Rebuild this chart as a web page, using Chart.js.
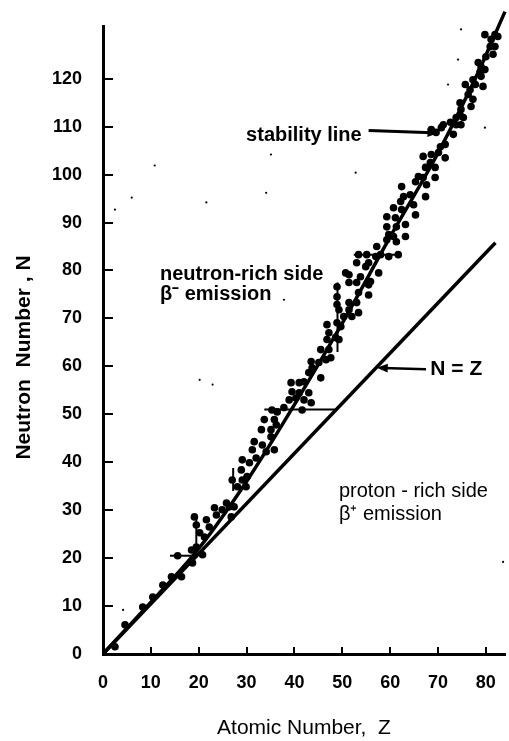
<!DOCTYPE html>
<html>
<head>
<meta charset="utf-8">
<title>Neutron number vs atomic number</title>
<script src="https://cdn.jsdelivr.net/npm/chart.js@4.4.0/dist/chart.umd.min.js"></script>
<style>
  html, body { margin: 0; padding: 0; background: #fff; }
  #wrap { width: 509px; height: 741px; }
</style>
</head>
<body>
<div id="wrap"><canvas id="nuclideChart" width="509" height="741"></canvas></div>
<script>
// Tick labels
const zTicks = [0, 10, 20, 30, 40, 50, 60, 70, 80];
const nTicks = [0, 10, 20, 30, 40, 50, 60, 70, 80, 90, 100, 110, 120];

// Stable nuclides (Z, N)
const dotZ = [2.5, 4.6, 8.3, 10.4, 12.5, 14.3, 16.4, 15.6, 18.5, 19.5, 18.7, 20.8,
  19.1, 19.5, 20.2, 21.2, 21.6, 22.2, 23.3, 23.7, 24.9, 25.8, 26.4, 26.8, 27.4,
  27, 28.1, 29.1, 29.9, 30.1, 28.9, 30.6, 29.1, 32, 31.2, 31.6, 33.3, 34.1, 35.1,
  35.8, 33.1, 35.1, 36.2, 33.7, 35.8, 35.3, 36.4, 37.8, 41.6, 38.9, 40.3, 42,
  39.5, 41, 43, 39.3, 41, 42, 43.5, 43, 43.7, 45.1, 45.5, 43.5, 45.5, 47.2, 46.6,
  47.6, 46.8, 47.2, 46.8, 48.6, 49.3, 48.9, 49.7, 48.9, 48.9, 48.9, 49.3, 51.4,
  50.3, 52, 51.4, 53, 53.4, 53.4, 51.4, 51.4, 53, 53.8, 55.5, 55.5, 53.4, 55.1,
  57, 58, 61.7, 54.9, 55.5, 57.6, 53, 50.7, 55.9, 59.7, 57.2, 59.3, 59.7, 61.3,
  60.7, 59.3, 59.3, 61.1, 61.3, 63.2, 63.2, 60.7, 62.4, 62.2, 65.3, 62.8, 62.4,
  64.2, 64.9, 65.3, 65.9, 67.6, 66.9, 67.4, 67.4, 68.4, 69.4, 69.4, 66.9, 68.6,
  70.1, 70.5, 71.5, 71.5, 68.6, 70.7, 69.6, 71.1, 73.2, 72.6, 73.8, 74.8, 73.8,
  74.6, 75.3, 74.8, 74.6, 76.9, 77.3, 76.3, 76.7, 75.7, 77.8, 79.4, 77.3, 79,
  78.8, 79, 79.8, 78.4, 80, 81.5, 81.9, 80.9, 79.8, 81.9, 81.1, 82.5];
const dotN = [1.5, 6.1, 9.8, 11.9, 14.4, 16.1, 16.1, 20.5, 21.7, 22.3, 19, 20.7,
  28.6, 26.9, 25.3, 24.4, 28, 26.5, 30.5, 29, 30.1, 31.5, 30.7, 28.6, 30.7,
  36.3, 34.9, 36.3, 34.9, 37, 38.4, 39.9, 40.5, 40.9, 42.6, 44.3, 43.6, 42.2, 45.3,
  42.6, 46.8, 46.8, 47.8, 48.9, 48.9, 50.9, 50.5, 51.4, 50.9, 53, 53.4, 53,
  54.7, 54.5, 54.5, 56.6, 56.6, 56.8, 52.4, 58.7, 59.7, 60.8, 57.6, 61, 63.5, 63.5, 61.4,
  61.8, 65.6, 67, 68.7, 66, 65.6, 69.1, 68.3, 76.6, 74.5, 72.9, 71.8, 71.8,
  70.4, 70.4, 73.3, 73.3, 75.4, 71.2, 77.5, 79.1, 77.5, 78.7, 74.9, 77, 83.3, 83.3,
  82.9, 83.3, 83.3, 80.8, 81.6, 79.5, 81.6, 79.5, 77.7, 82.9, 85, 86.4, 87.5, 86,
  87.1, 89.1, 91.2, 91, 89.1, 89.6, 87.1, 93.1, 92.7, 94.4, 91.6, 95.4, 97.5,
  95.8, 93.7, 98.5, 99.6, 97.9, 99.4, 95.4, 101.5, 102.5, 101.5, 99.4, 103.8, 104.2,
  104.6, 105.8, 103.5, 106.3, 109.4, 109.8, 108.8, 110.4, 108.4, 110.9, 110.4, 110.4, 111.9,
  112.5, 111.9, 113.6, 115, 114.2, 115.7, 116.7, 117.7, 118.8, 118.8, 118.4, 119.8, 120.5,
  121.5, 122.5, 121.9, 123.4, 124.6, 125.1, 126.7, 126.7, 129.2, 129.2, 128.2, 128.8];

// Stability line as drawn
const stabZ = [0, 10, 20, 30, 40, 50, 60, 70, 78, 84];
const stabN = [0, 10.8, 22, 36, 52, 69, 87, 104.5, 120.5, 134];

// "N = Z" line as drawn
const eqZ = [0, 82];
const eqN = [0, 85.8];

// Magic-number tie lines: [z1, n1, z2, n2]
const tieLines = [
  [14, 20.5, 19, 20.5],
  [19.5, 20, 19.5, 29],
  [27.2, 34, 27.2, 38.8],
  [33.7, 51, 48.9, 51],
  [49, 63, 49, 77.5],
  [52.4, 83.3, 62, 83.3]
];

// Small specks in the scan
const speckZ = [10.8, 2.5, 6, 21.6, 74.8, 74.2, 72.1, 79.8, 35.1, 52.8, 34.1, 37.8, 83.6, 22.9, 20.2, 4.2];
const speckN = [101.9, 92.7, 95.2, 94.2, 130.3, 124, 118.8, 109.8, 104.2, 100.4, 96.2, 73.9, 19.2, 56.2, 57.2, 9.2];

// Annotations (position in data units, left edge / vertical middle)
const notes = [
  { text: 'stability line', z: 29.9, n: 108.2, bold: true, size: 20 },
  { text: 'neutron-rich side', z: 11.9, n: 79.1, bold: true, size: 20 },
  { text: 'β⁻ emission', z: 11.9, n: 74.9, bold: true, size: 20 },
  { text: 'N = Z', z: 68.4, n: 59.5, bold: true, size: 21 },
  { text: 'proton - rich side', z: 49.3, n: 33.8, bold: false, size: 20 },
  { text: 'β⁺ emission', z: 49.3, n: 29, bold: false, size: 20 }
];
const arrows = [
  { from: [55.5, 109.2], to: [70.1, 108.7], width: 3 },
  { from: [67.5, 59.4], to: [57.2, 59.7], width: 2.5 }
];

const FONT = '"Liberation Sans", Arial, sans-serif';

function pairs(xs, ys) {
  return xs.map((v, i) => ({ x: v, y: ys[i] }));
}

// keep the plot box where the original has it
function noScalePadding(s) {
  s.paddingTop = 0;
  s.paddingBottom = 0;
  s.paddingLeft = 0;
  s.paddingRight = 0;
}

const notesPlugin = {
  id: 'notes',
  afterDatasetsDraw(chart) {
    const { ctx, scales: { x, y } } = chart;
    ctx.save();
    ctx.fillStyle = '#000';
    ctx.strokeStyle = '#000';
    ctx.textBaseline = 'middle';
    ctx.textAlign = 'left';
    notes.forEach(n => {
      ctx.font = (n.bold ? 'bold ' : '') + n.size + 'px ' + FONT;
      ctx.fillText(n.text, x.getPixelForValue(n.z), y.getPixelForValue(n.n));
    });
    arrows.forEach(a => {
      const x1 = x.getPixelForValue(a.from[0]), y1 = y.getPixelForValue(a.from[1]);
      const x2 = x.getPixelForValue(a.to[0]), y2 = y.getPixelForValue(a.to[1]);
      const ang = Math.atan2(y2 - y1, x2 - x1);
      const c = Math.cos(ang), s = Math.sin(ang);
      ctx.lineWidth = a.width;
      ctx.beginPath();
      ctx.moveTo(x1, y1);
      ctx.lineTo(x2 - 6 * c, y2 - 6 * s);
      ctx.stroke();
      ctx.beginPath();
      ctx.moveTo(x2, y2);
      ctx.lineTo(x2 - 11 * c + 4.5 * s, y2 - 11 * s - 4.5 * c);
      ctx.lineTo(x2 - 11 * c - 4.5 * s, y2 - 11 * s + 4.5 * c);
      ctx.closePath();
      ctx.fill();
    });
    ctx.restore();
  }
};

const lineSet = (data, width, extra) => Object.assign({
  data: data,
  showLine: true,
  borderColor: '#000',
  borderWidth: width,
  pointRadius: 0,
  fill: false
}, extra || {});

const datasets = [
  {
    label: 'stable nuclides',
    data: pairs(dotZ, dotN),
    pointRadius: 3.8,
    pointBackgroundColor: '#000',
    pointBorderWidth: 0,
    showLine: false
  },
  {
    label: 'specks',
    data: pairs(speckZ, speckN),
    pointRadius: 1.1,
    pointBackgroundColor: '#000',
    pointBorderWidth: 0,
    showLine: false
  },
  lineSet(pairs(stabZ, stabN), 3.5, { label: 'stability line', cubicInterpolationMode: 'monotone', clip: false }),
  lineSet(pairs(eqZ, eqN), 3.5, { label: 'N = Z' })
];
tieLines.forEach((t, i) => {
  datasets.push(lineSet([{ x: t[0], y: t[1] }, { x: t[2], y: t[3] }], 2, { label: 'tie ' + i }));
});

document.addEventListener('DOMContentLoaded', function() {
  const ctx = document.getElementById('nuclideChart').getContext('2d');
  new Chart(ctx, {
    type: 'scatter',
    data: { datasets: datasets },
    plugins: [notesPlugin],
    options: {
      responsive: false,
      animation: false,
      layout: { padding: { top: 26, right: 2, left: 0, bottom: 0 } },
      plugins: {
        legend: { display: false },
        tooltip: { enabled: false }
      },
      scales: {
        x: {
          type: 'linear',
          min: 0,
          max: 84,
          afterBuildTicks: s => { s.ticks = zTicks.map(v => ({ value: v })); },
          afterFit: s => { s.height = 87; noScalePadding(s); },
          border: { display: true, color: '#000', width: 3 },
          grid: { drawOnChartArea: false, drawTicks: true, tickLength: -7, color: '#000', lineWidth: 2 },
          ticks: {
            color: '#000',
            padding: 25,
            maxRotation: 0,
            font: { family: FONT, size: 18, weight: 'bold' }
          },
          title: {
            display: true,
            text: 'Atomic Number,  Z',
            color: '#000',
            padding: 0,
            font: { family: FONT, size: 21 }
          }
        },
        y: {
          type: 'linear',
          min: 0,
          max: 131,
          afterBuildTicks: s => { s.ticks = nTicks.map(v => ({ value: v })); },
          afterFit: s => { s.width = 103; noScalePadding(s); },
          border: { display: true, color: '#000', width: 3 },
          grid: { drawOnChartArea: false, drawTicks: true, tickLength: -10, color: '#000', lineWidth: 2 },
          ticks: {
            color: '#000',
            padding: 31,
            font: { family: FONT, size: 18, weight: 'bold' }
          },
          title: {
            display: true,
            text: 'Neutron  Number , N      ',
            color: '#000',
            padding: { top: 12, bottom: 0 },
            font: { family: FONT, size: 21, weight: 'bold' }
          }
        }
      }
    }
  });
});
</script>
</body>
</html>
